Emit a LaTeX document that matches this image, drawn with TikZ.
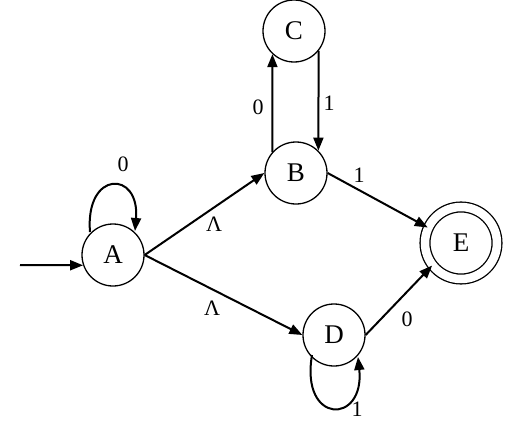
\documentclass[tikz,border=0pt]{standalone}
\usepackage{fontspec}
\setmainfont{Liberation Serif}
\usetikzlibrary{arrows.meta}
\begin{document}
\begin{tikzpicture}[x=1pt,y=-1pt,
  state/.style={draw, circle, line width=1.3pt, minimum size=62pt, inner sep=0pt, font=\fontsize{27}{29}\selectfont},
  edge/.style={line width=2pt, -{Triangle[length=13pt,width=10pt]}},
  lbl/.style={font=\fontsize{22}{24}\selectfont, inner sep=0pt}]
\useasboundingbox (0,0) rectangle (514,423);
\node[state] (A) at (113,255) {A};
\node[state] (B) at (296,173) {B};
\node[state] (C) at (294,31) {C};
\node[state] (D) at (334,335) {D};
\node[state, double, double distance=8.5pt, minimum size=72pt] (E) at (461,243) {E};
\coordinate (s) at (20,265);
\draw[edge] (s) -- (A.199);
\draw[edge] (90,232) .. controls (85,170) and (140,170) .. (135,231);
\node[lbl] (l0) at (123,164) {0};
\draw[edge] (A.east) -- (B.west);
\node[lbl] (l1) at (214,224) {Λ};
\draw[edge] (A.east) -- (D.west);
\node[lbl] (l2) at (212,308) {Λ};
\draw[edge] (B.138) -- (C.227);
\node[lbl] (l3) at (258,107) {0};
\draw[edge] (C.-39) -- (B.45);
\node[lbl] (l4) at (329,103) {1};
\draw[edge] (B.east) -- (E.155);
\node[lbl] (l5) at (359,175) {1};
\draw[edge] (D.east) -- (E.218);
\node[lbl] (l6) at (407,319) {0};
\draw[edge] (312,355) .. controls (300,425) and (365,425) .. (358,357);
\node[lbl] (l7) at (357,409) {1};
\end{tikzpicture}
\end{document}
